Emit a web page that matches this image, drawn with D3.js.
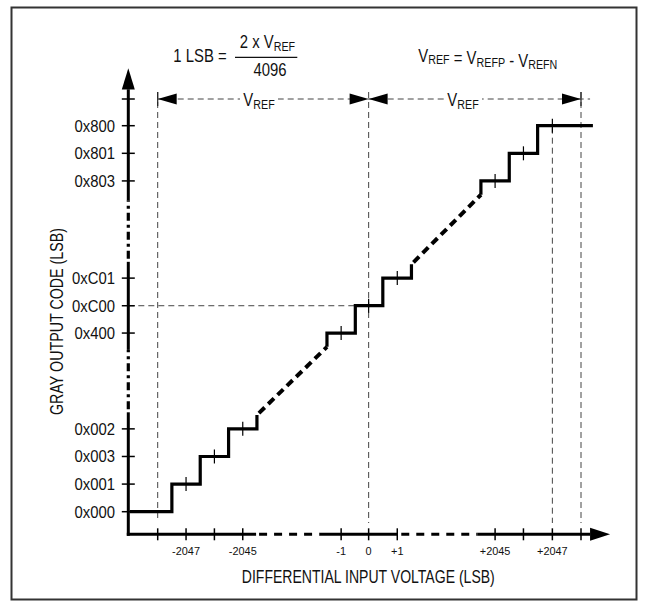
<!DOCTYPE html>
<html><head><meta charset="utf-8">
<script src="https://cdn.jsdelivr.net/npm/d3@7"></script>
<style>
body{margin:0;background:#fff}
text{font-family:"Liberation Sans Narrow","Arial Narrow","Liberation Sans",Arial,sans-serif;fill:#111}
</style></head><body>
<svg id="c" width="647" height="608"></svg>
<script>
// ---- data ----
const codeLabels = ["0x000","0x001","0x003","0x002","0x400","0xC00","0xC01","0x803","0x801","0x800"];
const codeSlots  = [0,1,2,3,6.47,7.46,8.46,11.98,12.98,13.98];
const inputLabels = ["","-2047","","-2045","-1","0","+1","+2045","","+2047",""];
const inputSlots  = [0,1,2,3,6.47,7.44,8.45,11.9,12.9,13.92,14.93];
const stepGroups = [[0,3],[4,6],[7,9]];

const svg = d3.select("#c");
svg.append("rect").attr("width",647).attr("height",608).attr("fill","#fff");
svg.append("rect").attr("x",11.5).attr("y",7.5).attr("width",625).attr("height",592)
  .attr("fill","none").attr("stroke","#333").attr("stroke-width",2);

const x = d3.scaleLinear().domain([0,14.93]).range([157.7,581]);
const y = d3.scaleLinear().domain([0,13.98]).range([511.7,125.7]);
const axX = 128.3, axY = 534.3;
const dimY = 99;
const SX = 0.85, FS = 17.5;

// condensed text helper
function ctext(g, px, py, size, anchor, sx){
  return g.append("text").attr("transform",`translate(${px},${py}) scale(${sx||SX},1)`)
    .attr("font-size",size).attr("text-anchor",anchor||"start");
}
function addParts(t, parts, size){
  parts.forEach(p=>{
    if(p.sub){
      t.append("tspan").attr("font-size",size*0.72).attr("dy",2.5).text(p.sub);
      t.append("tspan").attr("dy",-2.5).text("");
    } else t.append("tspan").text(p.t);
  });
  return t;
}

// ---- guide dashed lines ----
const guide = svg.append("g").attr("stroke","#444").attr("stroke-width",1).attr("stroke-dasharray","6,4").attr("fill","none");
[[0,92,520],[5,92,523],[9,y(codeSlots[9])+2,523],[10,92,523]].forEach(([i,y0,y1])=>{
  guide.append("line").attr("x1",x(inputSlots[i])).attr("x2",x(inputSlots[i])).attr("y1",y0).attr("y2",y1);
});
guide.append("line").attr("x1",axX).attr("x2",x(inputSlots[5]-0.5)).attr("y1",y(codeSlots[5])).attr("y2",y(codeSlots[5]));

// ---- dimension line ----
const dim = svg.append("g");
dim.append("line").attr("x1",x(inputSlots[0])).attr("x2",x(15.25)).attr("y1",dimY).attr("y2",dimY)
  .attr("stroke","#444").attr("stroke-width",1).attr("stroke-dasharray","6,4");
[0,10].forEach(i=>dim.append("line").attr("x1",x(inputSlots[i])).attr("x2",x(inputSlots[i]))
  .attr("y1",dimY-7).attr("y2",dimY+7).attr("stroke","#222").attr("stroke-width",1.2));
function arrowH(tip, dir){
  const b = tip - dir*19;
  dim.append("path").attr("d",`M${tip},${dimY}L${b},${dimY-5.5}L${b},${dimY+5.5}Z`).attr("fill","#000");
}
arrowH(x(inputSlots[0]),-1);
arrowH(x(inputSlots[5]),1);
arrowH(x(inputSlots[5]),-1);
arrowH(x(inputSlots[10]),1);

[259,463].forEach(cx=>{
  dim.append("rect").attr("x",cx-19).attr("y",dimY-10).attr("width",38).attr("height",20).attr("fill","#fff");
  addParts(ctext(dim,cx,dimY+7,FS,"middle"),[{t:"V"},{sub:"REF"}],FS);
});

// top formulas
ctext(svg,173.3,62.3,FS,"start").text("1 LSB =");
svg.append("line").attr("x1",235).attr("x2",297.3).attr("y1",57.3).attr("y2",57.3).attr("stroke","#111").attr("stroke-width",1.2);
addParts(ctext(svg,267.5,48.3,FS,"middle"),[{t:"2 x V"},{sub:"REF"}],FS);
ctext(svg,270,76,FS,"middle").text("4096");
addParts(ctext(svg,418.3,61.7,FS,"start"),[{t:"V"},{sub:"REF"},{t:" = V"},{sub:"REFP"},{t:" - V"},{sub:"REFN"}],FS);

// ---- axes ----
const axis = svg.append("g").attr("stroke","#000").attr("fill","none");
function seg(x1,y1,x2,y2,dash,w){
  const l = axis.append("line").attr("x1",x1).attr("y1",y1).attr("x2",x2).attr("y2",y2).attr("stroke-width",w||3);
  if(dash) l.attr("stroke-dasharray",dash);
}
seg(axX-1.5,axY,x(3.47),axY);
seg(x(3.47)+3,axY,x(5.7),axY,"8,7",3);
seg(x(5.7),axY,x(8.45),axY);
seg(x(8.45)+4,axY,x(11.27),axY,"8,7",3);
seg(x(11.27),axY,x(15.25),axY);
svg.append("path").attr("d",`M${x(15.25)+20},${axY}L${x(15.25)},${axY-6.5}L${x(15.25)},${axY+6.5}Z`).attr("fill","#000");
seg(axX,axY+1.5,axX,y(3.6));
seg(axX,y(3.6)-3,axX,y(5.86),"8,4,3,4",3.2);
seg(axX,y(5.86),axX,y(9.05));
seg(axX,y(9.05)-3,axX,y(11.28),"8,4,3,4",3.2);
seg(axX,y(11.28),axX,89.3);
svg.append("path").attr("d",`M${axX},68.3L${axX-6.5},89.5L${axX+6.5},89.5Z`).attr("fill","#000");

// x ticks
inputSlots.forEach((s,i)=>{
  seg(x(s),axY-6,x(s),axY+6,null,1.5);
  if(inputLabels[i]) ctext(svg,x(s),axY+21,11.5,"middle",0.95).text(inputLabels[i]);
});
// y ticks
codeSlots.forEach((s,i)=>{
  seg(axX-6.5,y(s),axX+6.5,y(s),null,1.5);
  ctext(svg,115,y(s)+5.9,16.5,"end",0.9).text(codeLabels[i]);
});
seg(axX-6.5,dimY,axX+6.5,dimY,null,1.5);

// axis titles
svg.append("text").attr("x",368.3).attr("y",582.7).attr("font-size",18.5).attr("text-anchor","middle")
  .attr("textLength",253).attr("lengthAdjust","spacingAndGlyphs").text("DIFFERENTIAL INPUT VOLTAGE (LSB)");
svg.append("text").attr("transform","translate(63,321.5) rotate(-90)").attr("font-size",18.5).attr("text-anchor","middle")
  .attr("textLength",187).attr("lengthAdjust","spacingAndGlyphs").text("GRAY OUTPUT CODE (LSB)");

// ---- staircase ----
const yAxSlot = x.invert(axX+1.5);
const stair = svg.append("g").attr("fill","none").attr("stroke","#000");
const ends = [], starts = [];
stepGroups.forEach(([a,b],g)=>{
  const pts = [];
  for(let i=a;i<=b;i++){
    const xs = inputSlots[i], ys = codeSlots[i];
    if(i===a){
      if(g===0) pts.push([yAxSlot,ys]);
      else { pts.push([xs-0.5,ys-0.5]); starts.push([xs-0.5,ys-0.5]); pts.push([xs-0.5,ys]); }
    }
    const xe = (i===codeSlots.length-1) ? 15.35 : xs+0.5;
    pts.push([xe,ys]);
    if(i<b) pts.push([xe,codeSlots[i+1]]);
    else if(i!==codeSlots.length-1){ pts.push([xe,ys+0.5]); ends.push([xe,ys+0.5]); }
  }
  stair.append("path").attr("d",d3.line().x(d=>x(d[0])).y(d=>y(d[1]))(pts))
    .attr("stroke-width",3.2).attr("stroke-linejoin","miter");
});
ends.forEach((e,k)=>{
  const s = starts[k];
  stair.append("line").attr("x1",x(e[0])+2).attr("y1",y(e[1])-2).attr("x2",x(s[0])).attr("y2",y(s[1]))
    .attr("stroke-width",4).attr("stroke-dasharray","8,5");
});
for(let i=1;i<codeSlots.length;i++){
  stair.append("line").attr("x1",x(inputSlots[i])).attr("x2",x(inputSlots[i]))
    .attr("y1",y(codeSlots[i])-7).attr("y2",y(codeSlots[i])+7).attr("stroke-width",1.2);
}
</script>
</body></html>
